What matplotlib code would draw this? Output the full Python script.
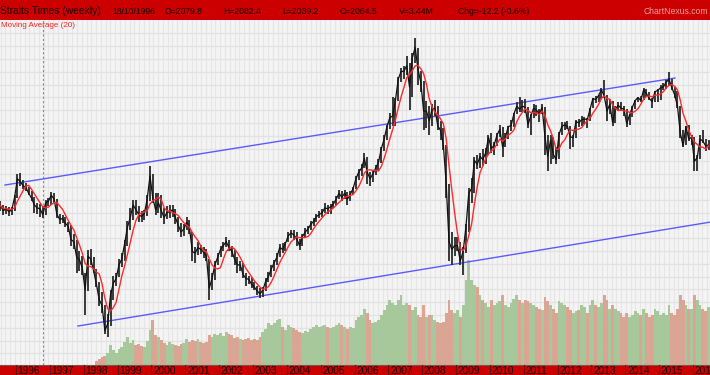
import numpy as np
import pandas as pd
import matplotlib
matplotlib.use("Agg")
import matplotlib.pyplot as plt
from matplotlib.patches import Rectangle

# ---------------- data (monthly, Jul 1995 .. Jun 2016) ----------------
start_year = 1995.5          # first month = July 1995
close = [
    2170, 2120, 2140, 2110, 2130, 2260,                                   # 1995 H2
    2450, 2420, 2380, 2360, 2300, 2250, 2180, 2150, 2140, 2080, 2200, 2220,  # 1996
    2280, 2240, 2080, 2030, 2040, 1990, 1960, 1820, 1800, 1640, 1610, 1530,  # 1997
    1300, 1650, 1620, 1500, 1360, 1200, 1140, 880, 950, 1250, 1370, 1420,    # 1998
    1560, 1620, 1780, 1950, 2050, 2180, 2130, 2080, 2060, 2090, 2240, 2480,  # 1999
    2250, 2130, 2200, 2120, 2050, 2100, 2110, 2130, 2050, 1970, 1900, 1930,  # 2000
    2000, 1940, 1700, 1680, 1740, 1720, 1690, 1650, 1320, 1420, 1560, 1640,  # 2001
    1720, 1760, 1800, 1740, 1700, 1620, 1560, 1560, 1460, 1420, 1410, 1360,  # 2002
    1330, 1290, 1260, 1300, 1390, 1440, 1520, 1580, 1640, 1740, 1720, 1780,  # 2003
    1860, 1890, 1870, 1830, 1760, 1850, 1900, 1930, 1980, 2010, 2060, 2080,  # 2004
    2100, 2150, 2140, 2160, 2190, 2240, 2300, 2260, 2300, 2240, 2290, 2350,  # 2005
    2450, 2520, 2560, 2660, 2520, 2450, 2500, 2560, 2620, 2760, 2860, 2990,  # 2006
    3080, 3100, 3260, 3480, 3560, 3560, 3620, 3400, 3700, 3810, 3580, 3450,  # 2007
    3150, 3150, 3050, 3170, 3180, 3000, 2950, 2800, 2400, 1800, 1720, 1760,  # 2008
    1760, 1600, 1700, 1950, 2300, 2350, 2640, 2600, 2680, 2650, 2720, 2880,  # 2009
    2760, 2800, 2900, 2960, 2780, 2880, 2990, 3000, 3120, 3200, 3170, 3200,  # 2010
    3190, 3010, 3100, 3180, 3160, 3120, 3190, 2890, 2680, 2850, 2700, 2650,  # 2011
    2910, 2990, 3010, 2990, 2880, 2880, 3040, 3030, 3060, 3070, 3060, 3170,  # 2012
    3280, 3270, 3310, 3370, 3310, 3150, 3220, 3030, 3170, 3210, 3180, 3170,  # 2013
    3020, 3110, 3190, 3260, 3290, 3260, 3370, 3330, 3280, 3250, 3350, 3365,  # 2014
    3390, 3400, 3450, 3480, 3390, 3320, 3200, 2920, 2790, 2990, 2860, 2880,  # 2015
    2630, 2670, 2860, 2840, 2790, 2800,                                   # 2016 H1
]
high = [
    2220, 2180, 2170, 2160, 2160, 2280,
    2500, 2510, 2440, 2410, 2370, 2320, 2260, 2200, 2190, 2170, 2230, 2250,
    2310, 2300, 2240, 2090, 2080, 2060, 2000, 1970, 1880, 1820, 1700, 1650,
    1480, 1710, 1720, 1640, 1520, 1380, 1280, 1150, 1050, 1300, 1450, 1480,
    1620, 1680, 1820, 2010, 2150, 2230, 2230, 2170, 2120, 2130, 2280, 2580,
    2500, 2300, 2300, 2280, 2150, 2170, 2180, 2180, 2140, 2060, 1990, 1980,
    2060, 2020, 1900, 1740, 1800, 1770, 1740, 1720, 1620, 1480, 1600, 1680,
    1760, 1800, 1850, 1820, 1760, 1710, 1640, 1600, 1580, 1480, 1450, 1430,
    1380, 1340, 1320, 1330, 1420, 1490, 1560, 1610, 1680, 1780, 1790, 1800,
    1900, 1920, 1920, 1900, 1830, 1880, 1940, 1960, 2010, 2050, 2090, 2120,
    2140, 2200, 2180, 2190, 2220, 2270, 2330, 2320, 2330, 2310, 2320, 2370,
    2480, 2550, 2600, 2720, 2680, 2520, 2530, 2590, 2650, 2780, 2900, 3010,
    3130, 3300, 3290, 3500, 3600, 3620, 3720, 3650, 3750, 3906, 3800, 3560,
    3460, 3250, 3200, 3220, 3260, 3200, 3050, 2980, 2800, 2400, 1900, 1850,
    1850, 1800, 1750, 1980, 2350, 2460, 2680, 2700, 2720, 2760, 2770, 2900,
    2920, 2830, 2920, 3010, 2990, 2920, 3000, 3060, 3130, 3240, 3300, 3260,
    3280, 3190, 3120, 3220, 3210, 3170, 3220, 3190, 2900, 2900, 2880, 2780,
    2930, 3040, 3040, 3050, 3000, 2900, 3060, 3070, 3100, 3090, 3080, 3180,
    3290, 3310, 3320, 3390, 3470, 3320, 3280, 3250, 3200, 3240, 3240, 3200,
    3170, 3120, 3200, 3270, 3300, 3310, 3390, 3380, 3350, 3290, 3360, 3380,
    3420, 3440, 3470, 3550, 3480, 3400, 3360, 3200, 2950, 3000, 3010, 2900,
    2880, 2700, 2900, 2950, 2860, 2850,
]
low = [
    2120, 2080, 2090, 2070, 2080, 2120,
    2250, 2380, 2340, 2320, 2280, 2220, 2100, 2090, 2060, 2040, 2080, 2170,
    2180, 2200, 2050, 1980, 1990, 1950, 1900, 1760, 1720, 1480, 1500, 1460,
    1040, 1290, 1560, 1480, 1330, 1140, 1060, 850, 814, 930, 1200, 1340,
    1440, 1540, 1600, 1760, 1920, 2020, 2080, 2000, 2000, 2020, 2070, 2220,
    2200, 2080, 2100, 2050, 1980, 2030, 2040, 2060, 1980, 1900, 1850, 1860,
    1920, 1880, 1600, 1580, 1660, 1670, 1630, 1600, 1200, 1300, 1400, 1560,
    1640, 1700, 1740, 1700, 1640, 1560, 1480, 1500, 1420, 1340, 1360, 1320,
    1300, 1250, 1220, 1230, 1290, 1380, 1430, 1500, 1560, 1640, 1680, 1700,
    1800, 1840, 1820, 1760, 1710, 1760, 1850, 1880, 1920, 1960, 2000, 2040,
    2060, 2100, 2090, 2090, 2150, 2180, 2240, 2220, 2240, 2180, 2220, 2280,
    2340, 2440, 2480, 2560, 2400, 2380, 2420, 2490, 2540, 2610, 2740, 2850,
    2960, 3000, 3000, 3250, 3450, 3480, 3520, 3160, 3300, 3650, 3420, 3350,
    2950, 2980, 2900, 3000, 3100, 2950, 2850, 2750, 2250, 1600, 1560, 1650,
    1700, 1560, 1456, 1680, 1900, 2200, 2300, 2550, 2560, 2580, 2600, 2700,
    2720, 2700, 2790, 2880, 2680, 2780, 2860, 2940, 2990, 3120, 3140, 3140,
    3130, 2980, 2900, 3080, 3100, 3040, 3120, 2700, 2530, 2600, 2660, 2600,
    2650, 2900, 2950, 2960, 2760, 2780, 2870, 2990, 3000, 3020, 2980, 3050,
    3180, 3230, 3240, 3280, 3290, 3050, 3120, 3000, 3030, 3150, 3150, 3100,
    2990, 3010, 3090, 3170, 3240, 3240, 3260, 3300, 3270, 3180, 3240, 3240,
    3270, 3370, 3380, 3410, 3370, 3290, 3180, 2870, 2780, 2800, 2840, 2800,
    2530, 2530, 2650, 2820, 2740, 2750,
]
volume = [  # millions of shares (weekly average)
    0, 0, 0, 0, 0, 0,
    0, 0, 0, 0, 0, 0, 0, 0, 0, 0, 0, 0,
    0, 0, 0, 0, 0, 0, 0, 0, 0, 0, 0, 0,
    0, 0, 0, 0, 40, 60, 80, 90, 120, 200, 150, 120,
    160, 180, 230, 280, 220, 250, 200, 210, 190, 180, 240, 350,
    450, 300, 280, 250, 220, 200, 230, 210, 200, 190, 210, 220,
    260, 230, 250, 240, 260, 230, 220, 230, 300, 280, 310, 300,
    320, 290, 330, 310, 300, 270, 280, 260, 250, 260, 270, 250,
    260, 250, 280, 330, 360, 420, 400, 420, 450, 460, 380, 350,
    400, 380, 370, 350, 330, 320, 340, 330, 360, 380, 400, 380,
    390, 400, 380, 370, 380, 400, 420, 400, 380, 360, 380, 370,
    450, 480, 500, 560, 520, 450, 420, 430, 450, 500, 550, 600,
    650, 620, 600, 650, 700, 600, 620, 600, 550, 580, 500, 480,
    600, 480, 500, 500, 450, 430, 420, 430, 520, 650, 550, 520,
    550, 480, 600, 850, 1050, 850, 800, 780, 700, 650, 620, 580,
    650, 600, 620, 640, 700, 600, 580, 620, 660, 700, 650, 620,
    650, 640, 620, 600, 580, 560, 550, 680, 640, 600, 560, 520,
    640, 620, 600, 580, 550, 520, 540, 550, 600, 580, 520, 600,
    650, 600, 580, 620, 700, 650, 560, 600, 560, 540, 520, 480,
    520, 480, 500, 540, 520, 500, 560, 520, 480, 500, 560, 540,
    500, 520, 500, 600, 520, 500, 560, 700, 650, 600, 560, 560,
    700, 650, 600, 560, 540, 580,
]
year_labels = [str(y) for y in range(1996, 2017)]
upper_channel = ([1995.675, 2015.468], [2386, 3492])
lower_channel = ([1997.83, 2016.50], [928, 2002])
cursor_date = 1996.795
header_items = ["18/10/1996", "O=2079.8", "H=2082.4", "L=2039.2",
                "C=2064.5", "V=3.44M", "Chg=-12.2 (-0.6%)"]
ma_window = 5  # ~20 weeks on monthly closes

# ---------------- derived ----------------
n = len(close)
dates = start_year + (np.arange(n) + 0.5) / 12.0
close_s = pd.Series(close, dtype=float)
ma = close_s.rolling(ma_window, min_periods=1).mean()
up = np.r_[True, np.diff(close) >= 0]

# ---------------- figure ----------------
W, H = 710, 375
fig = plt.figure(figsize=(W / 100, H / 100), dpi=100)
fig.patch.set_facecolor("#f4f4f4")
plt.rcParams["font.family"] = ["Liberation Sans", "DejaVu Sans"]

X0, X1 = 1995.527, 2016.502
bot_px, top_px = 10, 20
ax_vol = fig.add_axes([0, bot_px / H, 1, (H - bot_px - top_px) / H])
ax_vol.set_facecolor("#f4f4f4")
ax_vol.set_xlim(X0, X1)
ax_vol.set_ylim(0, 3450)
for s in ax_vol.spines.values():
    s.set_visible(False)
ax_vol.set_xticks([]); ax_vol.set_yticks([])

# grid (styling)
for gx in np.arange(X0 + 0.02, X1, 0.141):
    ax_vol.axvline(gx, color="#e6e6e6", lw=0.9, zorder=0)
for gy in np.arange(3450 - 133, 0, -128):
    ax_vol.axhline(gy, color="#e2e2e2", lw=0.9, zorder=0)

bar_colors = ["#a3c697" if u else "#d9a28e" for u in up]
ax_vol.bar(dates, volume, width=1 / 12, color=bar_colors, alpha=0.95,
           linewidth=0, zorder=2)

ax = ax_vol.twinx()
ax.set_xlim(X0, X1)
ax.set_ylim(525, 4092)
ax.patch.set_visible(False)
for s in ax.spines.values():
    s.set_visible(False)
ax.set_xticks([]); ax.set_yticks([])

ax.axvline(cursor_date, color="#8a8a8a", lw=0.8, ls=(0, (2, 2)), zorder=1)
ax.plot(*upper_channel, color="#5a5aff", lw=1.0, zorder=3)
ax.plot(*lower_channel, color="#5a5aff", lw=1.0, zorder=3)
ax.vlines(dates, low, high, color="#2a2a2a", lw=1.3, zorder=4)
ax.plot(dates, close, color="#111111", lw=0.9, zorder=4)
ax.plot(dates, ma, color="#ff2a2a", lw=1.0, zorder=5)

# bottom axis band
xt = ax.get_xaxis_transform()
ax.add_patch(Rectangle((X0, -bot_px / 345), X1 - X0, bot_px / 345,
                       transform=xt, facecolor="#cc0000", edgecolor="none",
                       clip_on=False, zorder=6))
ax.plot([X0, X1], [0, 0], transform=xt, color="#7a5050", lw=0.8,
        clip_on=False, zorder=7)
for lab in year_labels:
    yr = int(lab)
    ax.plot([yr, yr], [-bot_px / 345, 0], transform=xt, color="#6a1010",
            lw=0.8, clip_on=False, zorder=7)
    ax.text(yr + 0.05, -6.5 / 345, lab, transform=xt, fontsize=7.3,
            color="#1a0000", ha="left", va="center", clip_on=False, zorder=8)

# header band
fig.add_artist(Rectangle((0, (H - 19.5) / H), 1, 19.5 / H,
                         transform=fig.transFigure, facecolor="#cc0000",
                         edgecolor="none", zorder=10))
hy = 1 - 11 / H
fig.text(0.5 / W, hy, "Straits Times (weekly)", fontsize=7.4, color="#1a0000",
         ha="left", va="center", zorder=11)
for xp, t in zip([112, 165, 223, 282, 340, 399, 458], header_items):
    fig.text(xp / W, hy, t, fontsize=6.2, color="#1a0000", ha="left",
             va="center", zorder=11)
fig.text(708 / W, hy, "ChartNexus.com", fontsize=6.2, color="#eea0a0",
         ha="right", va="center", zorder=11)
fig.text(1 / W, 1 - 25.5 / H, "Moving Average (20)", fontsize=5.8,
         color="#ff2020", ha="left", va="center", zorder=11)

fig.savefig("out.png", dpi=100, facecolor=fig.get_facecolor())
